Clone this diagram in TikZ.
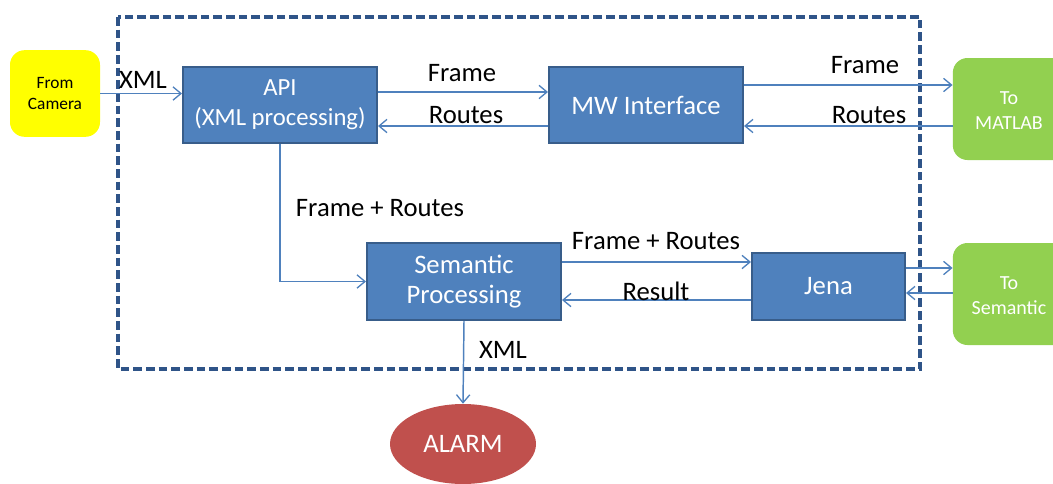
\documentclass[tikz,border=0pt]{standalone}
\usepackage{fontspec}
\setmainfont{Carlito}
\usetikzlibrary{arrows.meta,calc,shapes.geometric}
\definecolor{boxblue}{HTML}{4F81BD}
\definecolor{boxborder}{HTML}{385D8A}
\definecolor{arrowblue}{HTML}{4F81BD}
\definecolor{dashblue}{HTML}{2F5488}
\definecolor{green}{HTML}{92D050}
\definecolor{yellowbox}{HTML}{FFFF00}
\definecolor{alarmred}{HTML}{C0504D}
\tikzset{
  blk/.style={draw=boxborder, line width=1.5pt, fill=boxblue, text=white, align=center,
    font=\fontsize{20}{22.5}\selectfont, inner sep=0pt},
  ext/.style={fill=green, rounded corners=11pt, inner sep=0pt},
  exttxt/.style={text=white, align=center, font=\fontsize{15}{18.75}\selectfont, inner sep=0pt},
  lbl/.style={text=black, font=\fontsize{20}{24}\selectfont, inner sep=0pt},
  arr/.style={draw=arrowblue, line width=1.1pt, -{Straight Barb[length=6pt,width=10pt,line width=1pt]}}
}
\begin{document}
\begin{tikzpicture}[x=0.75pt,y=-0.75pt]
\useasboundingbox (0,0) rectangle (1053,483);
% dashed frame
\draw[dashblue, line width=2.5pt, dash pattern=on 6.5pt off 3pt] (118,17) rectangle (920,369);
% nodes
\node[fill=yellowbox, rounded corners=11pt, minimum width=67.5pt, minimum height=65pt,
  align=center, font=\fontsize{13}{16}\selectfont, inner sep=0pt] (cam) at (55,93.5) {From\\Camera};
\node[blk, minimum width=145.5pt, minimum height=57pt, font=\fontsize{18.5}{22.5}\selectfont] (api) at (280,105) {API\\(XML processing)};
\node[blk, minimum width=145.5pt, minimum height=57pt] (mw) at (646,105) {MW Interface};
\node[ext, minimum width=88pt, minimum height=76.5pt] (matlab) at (1011.5,109) {};
\node[exttxt] (matlabtxt) at (1009,111) {To\\MATLAB};
\node[ext, minimum width=88pt, minimum height=76.5pt] (sem) at (1011.5,294) {};
\node[exttxt] (semtxt) at (1009,296) {To\\Semantic};
\node[blk, minimum width=145.5pt, minimum height=57.75pt] (sp) at (464,281.5) {Semantic\\Processing};
\node[blk, minimum width=114.75pt, minimum height=50.25pt] (jena) at (828.5,286.5) {Jena};
\node[ellipse, fill=alarmred, text=white, minimum width=109.5pt, minimum height=60pt,
  font=\fontsize{20}{24}\selectfont, inner sep=0pt] (alarm) at (463,444) {ALARM};
% connectors
\draw[arr] (cam.east) -- (api.west |- cam.east);
\draw[arr] ($(api.east)+(0,-13)$) -- ($(mw.west)+(0,-13)$);
\draw[arr] ($(mw.west)+(0,21)$) -- ($(api.east)+(0,21)$);
\draw[arr] ($(mw.east)+(0,-20)$) -- ($(matlab.west)+(0,-24)$);
\draw[arr] ($(matlab.west)+(0,17)$) -- ($(mw.east)+(0,21)$);
\draw[arr] (api.south) |- (sp.west);
\draw[arr] ($(sp.east)+(0,-19.5)$) -- ($(jena.west)+(0,-24.5)$);
\draw[arr] ($(jena.west)+(0,13.5)$) -- ($(sp.east)+(0,18.5)$);
\draw[arr] ($(jena.east)+(0,-18.5)$) -- ($(sem.west)+(0,-26)$);
\draw[arr] ($(sem.west)+(0,-1)$) -- ($(jena.east)+(0,6.5)$);
\draw[arr] (sp.south) -- (alarm.north);
% labels
\node[lbl] (l1) at (143,80) {XML};
\node[lbl] (l2) at (462,73) {Frame};
\node[lbl] (l3) at (466,115) {Routes};
\node[lbl] (l4) at (865,65) {Frame};
\node[lbl] (l5) at (869,115) {Routes};
\node[lbl] (l6) at (380,208) {Frame + Routes};
\node[lbl] (l7) at (656,241) {Frame + Routes};
\node[lbl] (l8) at (656,291) {Result};
\node[lbl] (l9) at (503,350) {XML};
\end{tikzpicture}
\end{document}
